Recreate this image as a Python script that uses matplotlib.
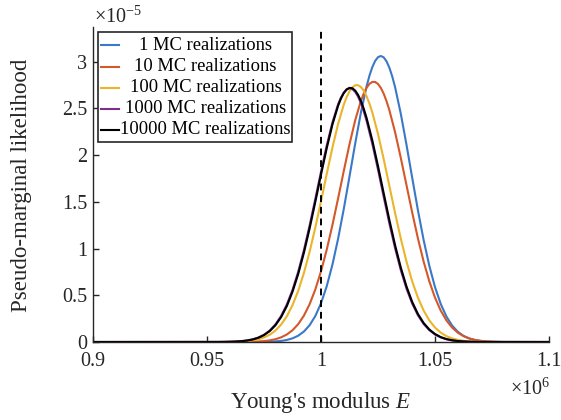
import matplotlib
matplotlib.use("Agg")
import matplotlib.pyplot as plt
from matplotlib.lines import Line2D
from matplotlib.patches import Rectangle

plt.rcParams['font.family'] = ['Liberation Serif', 'DejaVu Serif']
plt.rcParams['mathtext.fontset'] = 'custom'
plt.rcParams['mathtext.rm'] = 'Liberation Serif'
plt.rcParams['mathtext.it'] = 'Liberation Serif:italic'

# Young's modulus grid (x 1e6)
E_grid = [0.9] + [round(0.955 + 0.0025 * i, 4) for i in range(51)] + [1.1]

# pseudo-marginal likelihood (x 1e-5)
mc_1 = [0, 0, 0, 0, 0, 0.0001, 0.0001, 0.0003, 0.0007, 0.0015, 0.0030, 0.0061, 0.0117, 0.0218,
        0.0389, 0.0673, 0.1118, 0.1794, 0.2776, 0.4141, 0.5957, 0.8262, 1.1047, 1.4244, 1.7711,
        2.1233, 2.4544, 2.7356, 2.9404, 3.0471, 3.0450, 2.9340, 2.7258, 2.4419, 2.1096, 1.7567,
        1.4110, 1.0927, 0.8158, 0.5875, 0.4079, 0.2730, 0.1763, 0.1096, 0.0658, 0.0381, 0.0213,
        0.0114, 0.0059, 0.0030, 0.0014, 0.0007, 0]
mc_10 = [0, 0.0000, 0.0001, 0.0002, 0.0004, 0.0007, 0.0015, 0.0028, 0.0053, 0.0097, 0.0173, 0.0297,
         0.0495, 0.0801, 0.1256, 0.1911, 0.2821, 0.4038, 0.5612, 0.7558, 0.9867, 1.2502, 1.5362,
         1.8306, 2.1158, 2.3723, 2.5795, 2.7204, 2.7825, 2.7605, 2.6563, 2.4789, 2.2439, 1.9698,
         1.6774, 1.3853, 1.1095, 0.8620, 0.6495, 0.4746, 0.3364, 0.2314, 0.1542, 0.0997, 0.0626,
         0.0380, 0.0225, 0.0128, 0.0071, 0.0038, 0.0020, 0.0010, 0]
mc_100 = [0, 0.0003, 0.0007, 0.0014, 0.0027, 0.0051, 0.0094, 0.0167, 0.0287, 0.0479, 0.0776, 0.1218,
          0.1856, 0.2744, 0.3936, 0.5469, 0.7376, 0.9645, 1.2235, 1.5051, 1.7960, 2.0785, 2.3331,
          2.5402, 2.6821, 2.7467, 2.7283, 2.6285, 2.4560, 2.2259, 1.9564, 1.6679, 1.3791, 1.1061,
          0.8602, 0.6490, 0.4749, 0.3372, 0.2318, 0.1548, 0.1003, 0.0630, 0.0384, 0.0227, 0.0130,
          0.0072, 0.0039, 0.0020, 0.0010, 0.0005, 0.0002, 0.0001, 0]
mc_1000 = [0, 0.0006, 0.0013, 0.0026, 0.0049, 0.0091, 0.0163, 0.0283, 0.0476, 0.0775, 0.1225, 0.1875,
           0.2780, 0.3999, 0.5568, 0.7512, 0.9828, 1.2459, 1.5299, 1.8212, 2.1009, 2.3479, 2.5431,
           2.6691, 2.7150, 2.6759, 2.5559, 2.3656, 2.1218, 1.8443, 1.5533, 1.2679, 1.0029, 0.7686,
           0.5710, 0.4111, 0.2864, 0.1938, 0.1268, 0.0806, 0.0495, 0.0295, 0.0171, 0.0095, 0.0052,
           0.0027, 0.0014, 0.0007, 0.0003, 0.0002, 0.0001, 0.0000, 0]
mc_10000 = [0, 0.0006, 0.0012, 0.0024, 0.0046, 0.0085, 0.0153, 0.0266, 0.0449, 0.0734, 0.1163, 0.1788,
            0.2663, 0.3839, 0.5373, 0.7273, 0.9547, 1.2148, 1.4987, 1.7898, 2.0718, 2.3251, 2.5277,
            2.6632, 2.7189, 2.6901, 2.5791, 2.3961, 2.1572, 1.8822, 1.5912, 1.3037, 1.0352, 0.7964,
            0.5938, 0.4289, 0.3006, 0.2037, 0.1341, 0.0854, 0.0526, 0.0315, 0.0183, 0.0103, 0.0056,
            0.0029, 0.0015, 0.0007, 0.0004, 0.0002, 0.0001, 0.0000, 0]

# extra readings around each peak
peak_E_1 = [1.02125, 1.02375, 1.02625, 1.02875, 1.03125]
peak_1 = [2.8491, 3.0070, 3.0600, 3.0025, 2.8409]
peak_E_10 = [1.01875, 1.02125, 1.02375, 1.02625, 1.02875]
peak_10 = [2.6591, 2.7619, 2.7821, 2.7183, 2.5759]
peak_E_100 = [1.01125, 1.01375, 1.01625, 1.01875, 1.02125]
peak_100 = [2.6199, 2.7245, 2.7480, 2.6881, 2.5506]
peak_E_1000 = [1.00875, 1.01125, 1.01375, 1.01625, 1.01875]
peak_1000 = [2.6157, 2.7025, 2.7060, 2.6254, 2.4687]
peak_E_10000 = [1.00875, 1.01125, 1.01375, 1.01625, 1.01875]
peak_10000 = [2.6047, 2.7015, 2.7151, 2.6443, 2.4956]

series_labels = ['1 MC realizations', '10 MC realizations', '100 MC realizations',
                 '1000 MC realizations', '10000 MC realizations']
series_colors = ['#3B78C8', '#D4582A', '#EBB42A', '#7E2F8E', '#000000']
true_E = 1.0

x_ticks = [0.9, 0.95, 1.0, 1.05, 1.1]
x_tick_labels = ['0.9', '0.95', '1', '1.05', '1.1']
y_ticks = [0, 0.5, 1, 1.5, 2, 2.5, 3]
y_tick_labels = ['0', '0.5', '1', '1.5', '2', '2.5', '3']

W, H = 561, 420
fig = plt.figure(figsize=(W / 100, H / 100), dpi=100)
ax_l, ax_r, ax_b, ax_t = 93, 549, 342, 27
ax = fig.add_axes([ax_l / W, 1 - ax_b / H, (ax_r - ax_l) / W, (ax_b - ax_t) / H])

all_series = [(mc_1, peak_E_1, peak_1), (mc_10, peak_E_10, peak_10),
              (mc_100, peak_E_100, peak_100), (mc_1000, peak_E_1000, peak_1000),
              (mc_10000, peak_E_10000, peak_10000)]
for (ys, pe, pv), c in zip(all_series, series_colors):
    pts = sorted(set(zip(E_grid, ys)) | set(zip(pe, pv)))
    ax.plot([p[0] for p in pts], [p[1] for p in pts], color=c, lw=1.5,
            solid_joinstyle='round')
ax.axvline(true_E, color='black', lw=1.4, ls=(0, (3.5, 2.5)))

ax.set_xlim(0.9, 1.1)
ax.set_ylim(0, 3.37)
ax.set_xticks(x_ticks)
ax.set_xticklabels(x_tick_labels)
ax.set_yticks(y_ticks)
ax.set_yticklabels(y_tick_labels)
for s in ['top', 'right']:
    ax.spines[s].set_visible(False)
for s in ['left', 'bottom']:
    ax.spines[s].set_color('#262626')
    ax.spines[s].set_linewidth(1.0)
ax.tick_params(direction='in', length=4, width=1.0, color='#262626', labelsize=14.5,
               labelcolor='#262626')
ax.tick_params(axis='x', pad=7)
ax.tick_params(axis='y', pad=4)


def px(x, y):
    return ((x - ax_l) / (ax_r - ax_l), (ax_b - y) / (ax_b - ax_t))


# axis labels & exponents
ax.text(*px(321, 408), "Young's modulus $E$", transform=ax.transAxes, ha='center',
        va='baseline', fontsize=16.5, color='#262626')
ax.text(*px(22, 185), 'Pseudo-marginal likelihood', transform=ax.transAxes, ha='center',
        va='center', rotation=90, fontsize=16.5, color='#262626')
ax.text(*px(94, 23), r'$\times10^{-5}$', transform=ax.transAxes, ha='left', va='baseline',
        fontsize=14.5, color='#262626')
ax.text(*px(550, 395), r'$\times10^{6}$', transform=ax.transAxes, ha='right', va='baseline',
        fontsize=14.5, color='#262626')

# legend (drawn manually to get centred entry text)
x0, y0 = px(97.7, 141.7)
x1, y1 = px(292, 32.3)
ax.add_patch(Rectangle((x0, y0), x1 - x0, y1 - y0, transform=ax.transAxes, facecolor='white',
                       edgecolor='#262626', lw=1.2, zorder=5, clip_on=False))
rows = [45, 66.5, 87.5, 108.5, 130]
for lab, c, ry in zip(series_labels, series_colors, rows):
    la, ya = px(100.5, ry)
    lb, _ = px(119, ry)
    ax.add_line(Line2D([la, lb], [ya, ya], transform=ax.transAxes, color=c, lw=1.5, zorder=6,
                       clip_on=False))
    tx, _ = px(205.5, ry)
    ax.text(tx, ya, lab, transform=ax.transAxes, ha='center', va='center', fontsize=13.3,
            color='black', zorder=7)

fig.savefig('out.png', dpi=100)
